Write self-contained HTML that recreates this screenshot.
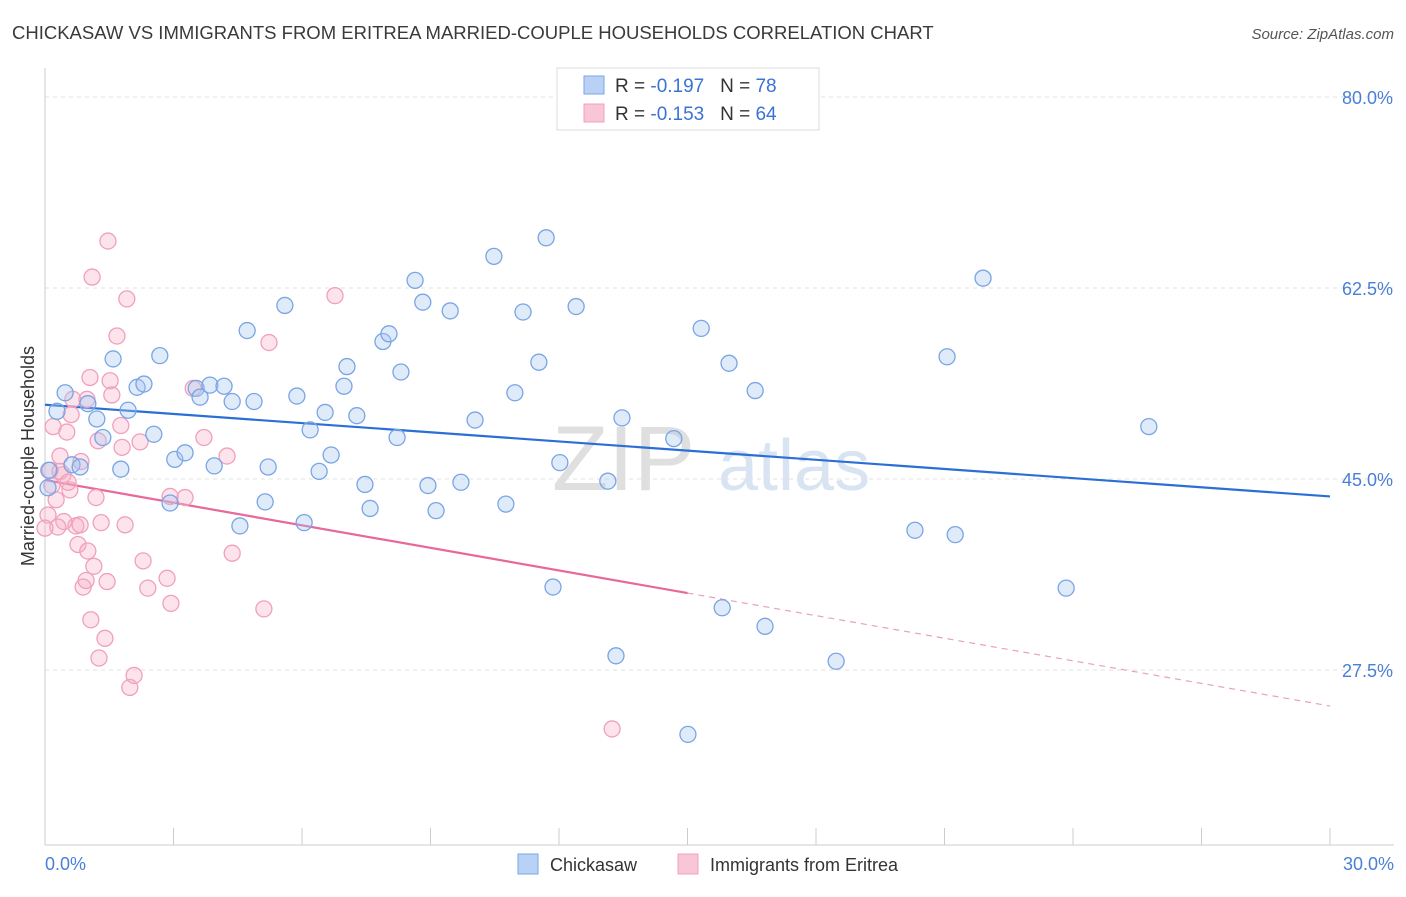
<!DOCTYPE html>
<html><head><meta charset="utf-8">
<style>
body{margin:0;background:#fff;font-family:"Liberation Sans",sans-serif;}
svg text{font-family:"Liberation Sans",sans-serif;}
</style></head>
<body>
<svg id="chart" width="1406" height="892" viewBox="0 0 1406 892" xmlns="http://www.w3.org/2000/svg">
<text x="12" y="39" font-size="18.5" fill="#3a3a3a">CHICKASAW VS IMMIGRANTS FROM ERITREA MARRIED-COUPLE HOUSEHOLDS CORRELATION CHART</text>
<text x="1394" y="39" font-size="15" fill="#555" text-anchor="end" font-style="italic">Source: ZipAtlas.com</text>
<g>
<text x="552" y="490" font-size="92" fill="#d8d8d8" font-family="Liberation Serif" opacity="0.8">ZIP</text>
<text x="718" y="490" font-size="72" fill="#c9d9ee" opacity="0.7">atlas</text>
</g>
<g id="grid"></g>
<line x1="45" y1="68" x2="45" y2="845" stroke="#ccc" stroke-width="1"/>
<line x1="45" y1="845" x2="1394" y2="845" stroke="#ccc" stroke-width="1"/>
<g id="xticks"></g>
<text transform="translate(34,456) rotate(-90)" font-size="18" fill="#333" text-anchor="middle">Married-couple Households</text>
<text x="45" y="870" font-size="18" fill="#4a7fd6">0.0%</text>
<text x="1394" y="870" font-size="18" fill="#4a7fd6" text-anchor="end">30.0%</text>
<g id="trends"></g>
<g id="points"></g>
<g>
<rect x="557" y="68" width="262" height="62" fill="#fff" stroke="#ddd"/>
<rect x="584" y="76" width="20" height="18" fill="#b9d1f5" stroke="#7aa6e6"/>
<rect x="584" y="104" width="20" height="18" fill="#f9c6d6" stroke="#f0a0bc"/>
<text x="615" y="92" font-size="19" fill="#333">R = <tspan fill="#3a73d4">-0.197</tspan>&#160;&#160;&#160;N = <tspan fill="#3a73d4">78</tspan></text>
<text x="615" y="120" font-size="19" fill="#333">R = <tspan fill="#3a73d4">-0.153</tspan>&#160;&#160;&#160;N = <tspan fill="#3a73d4">64</tspan></text>
</g>
<g>
<rect x="518" y="854" width="20" height="20" fill="#b9d1f5" stroke="#7aa6e6"/>
<text x="550" y="871" font-size="18" fill="#333">Chickasaw</text>
<rect x="678" y="854" width="20" height="20" fill="#f9c6d6" stroke="#f0a0bc"/>
<text x="710" y="871" font-size="18" fill="#333">Immigrants from Eritrea</text>
</g>
</svg>
<script>
const yTicks=[80,62.5,45,27.5];
const yTickLabels=["80.0%","62.5%","45.0%","27.5%"];
const xTickCount=10;
const blueX=[0.28,0.47,1.00,1.21,1.35,1.59,1.77,1.94,2.15,2.31,2.54,2.68,2.92,3.03,3.27,3.53,3.62,3.85,3.95,4.18,4.37,4.55,4.72,4.88,5.14,5.21,5.60,5.88,6.05,6.19,6.40,6.54,6.68,6.98,7.05,7.28,7.47,7.59,7.89,8.03,8.22,8.31,8.64,8.82,8.94,9.13,9.46,9.71,10.04,10.48,10.76,10.97,11.16,11.53,11.70,11.86,12.02,12.40,13.14,13.33,13.47,14.68,15.01,15.32,15.81,15.97,16.58,16.81,18.47,20.31,21.06,21.25,21.90,23.84,25.77,0.09,0.63,0.82,0.07];
const blueY=[51.2,52.9,51.9,50.5,48.8,56.0,45.9,51.3,53.4,53.7,49.1,56.3,42.8,46.8,47.4,53.3,52.5,53.6,46.2,53.5,52.1,40.7,58.6,52.1,42.9,46.1,60.9,52.6,41.0,49.5,45.7,51.1,47.2,53.5,55.3,50.8,44.5,42.3,57.6,58.3,48.8,54.8,63.2,61.2,44.4,42.1,60.4,44.7,50.4,65.4,42.7,52.9,60.3,55.7,67.1,35.1,46.5,60.8,44.8,28.8,50.6,48.7,21.6,58.8,33.2,55.6,53.1,31.5,28.3,40.3,56.2,39.9,63.4,35.0,49.8,45.8,46.3,46.1,44.2];
const pinkX=[0.19,0.12,0.16,0.26,0.35,0.42,0.51,0.58,0.61,0.65,0.72,0.77,0.82,0.84,0.89,0.96,0.98,1.00,1.05,1.07,1.14,1.19,1.24,1.26,1.31,1.40,1.45,1.47,1.52,1.56,1.68,1.77,1.80,1.87,1.91,1.98,2.08,2.22,2.29,2.40,2.85,2.92,2.94,3.27,3.46,3.71,4.25,4.37,5.11,5.23,6.77,13.24,1.10,0.35,0.54,0.44,0.30,0.07,0.00];
const pinkY=[49.8,45.8,44.4,43.1,47.1,45.4,49.3,44.0,50.9,52.3,40.7,39.0,40.8,46.6,35.1,35.7,52.3,38.4,54.3,32.1,37.0,43.3,48.5,28.6,41.0,30.4,35.6,66.8,54.0,52.7,58.1,49.9,47.9,40.8,61.5,25.9,27.0,48.4,37.5,35.0,35.9,43.4,33.6,43.3,53.3,48.8,47.1,38.2,33.1,57.5,61.8,22.1,63.5,45.7,44.7,41.1,40.6,41.7,40.5];
const blueTrend=[51.8,43.4];
const pinkTrend=[44.9,24.2];
const pinkSolidEnd=15;

const NS="http://www.w3.org/2000/svg";
const X0=45,X1=1330,Y80=97,PX=10.914;
function sx(v){return X0+(X1-X0)*v/30;}
function sy(v){return Y80+(80-v)*PX;}
function mk(tag,attrs,parent){const e=document.createElementNS(NS,tag);for(const k in attrs)e.setAttribute(k,attrs[k]);parent.appendChild(e);return e;}

const grid=document.getElementById('grid');
yTicks.forEach((t,i)=>{
  const l=mk('line',{x1:45,x2:1394,y1:sy(t),y2:sy(t),stroke:'#e2e2e2','stroke-dasharray':'4,4'},grid);
  
  
  const tx=mk('text',{x:1393,y:sy(t)+7,'font-size':18,fill:'#4a7fd6','text-anchor':'end'},grid);
  tx.textContent=yTickLabels[i];
  
  
});
const xt=document.getElementById('xticks');
for(let i=0;i<=xTickCount;i++){
  const l=mk('line',{x1:sx(i*3),x2:sx(i*3),y1:828,y2:845,stroke:'#ccc'},xt);
  
  
}
const tr=document.getElementById('trends');
const bl=mk('line',{x1:sx(0),y1:sy(blueTrend[0]),x2:sx(30),y2:sy(blueTrend[1]),stroke:'#2b6fd6','stroke-width':2.2},tr);


const pm=pinkTrend[0]+(pinkTrend[1]-pinkTrend[0])*pinkSolidEnd/30;
const pl=mk('line',{x1:sx(0),y1:sy(pinkTrend[0]),x2:sx(pinkSolidEnd),y2:sy(pm),stroke:'#e8689a','stroke-width':2.2},tr);


const pd=mk('line',{x1:sx(pinkSolidEnd),y1:sy(pm),x2:sx(30),y2:sy(pinkTrend[1]),stroke:'#eaa0bc','stroke-width':1.2,'stroke-dasharray':'6,5'},tr);



const pts=document.getElementById('points');
pinkX.forEach((x,i)=>{
  const c=mk('circle',{cx:sx(x),cy:sy(pinkY[i]),r:8,fill:'rgba(246,175,200,0.35)',stroke:'#f0a0bc','stroke-width':1.3},pts);
  
  
});
blueX.forEach((x,i)=>{
  const c=mk('circle',{cx:sx(x),cy:sy(blueY[i]),r:8,fill:'rgba(165,198,242,0.35)',stroke:'#79a5e5','stroke-width':1.3},pts);
  
  
});
</script>
</body></html>
